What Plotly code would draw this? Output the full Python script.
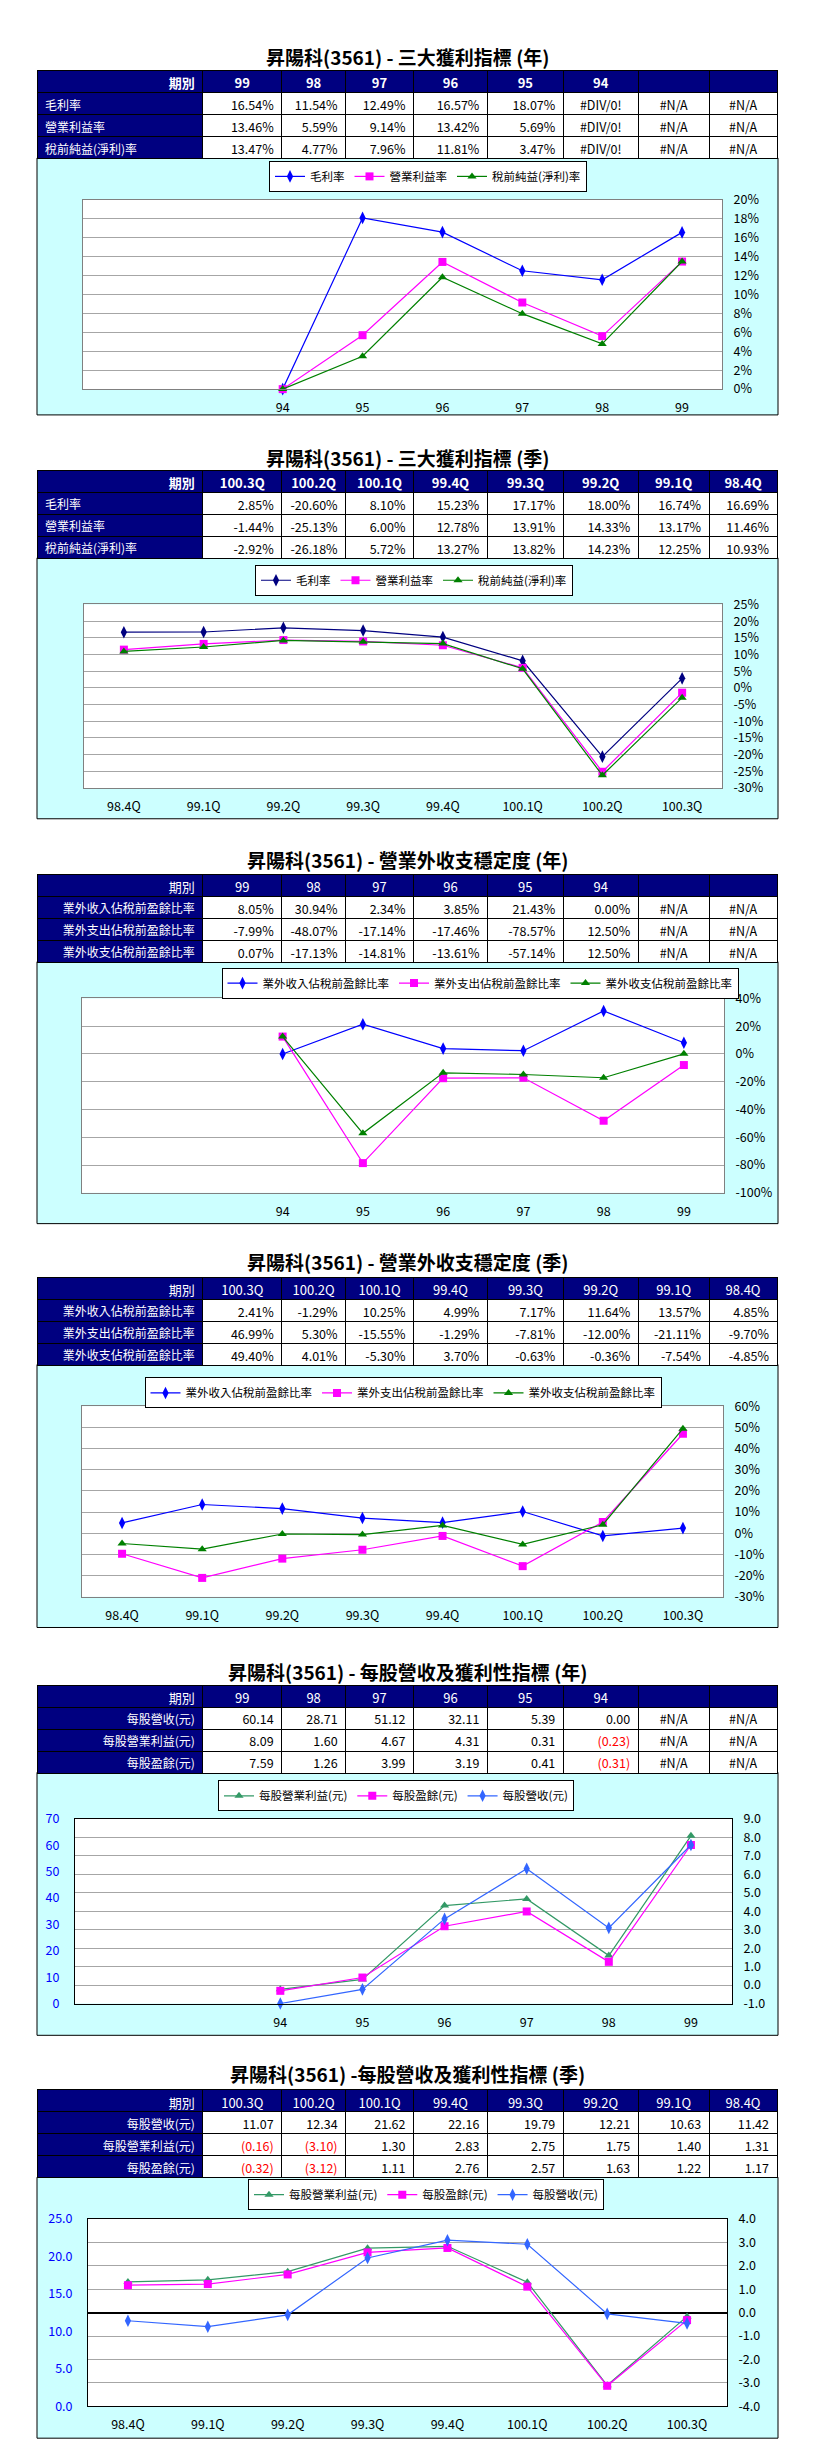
import plotly.graph_objects as go

W, H = 826, 2461
FONT = 'Noto Sans CJK TC, Liberation Sans, sans-serif'
NAVY = '#000080'
GRID = '#A6A6A6'
TICK = 12.5

# ---------------- data ----------------
years = ['99', '98', '97', '96', '95', '94']
quarters = ['100.3Q', '100.2Q', '100.1Q', '99.4Q', '99.3Q', '99.2Q', '99.1Q', '98.4Q']

# 1. 三大獲利指標 (年)  (None = #DIV/0!, plotted as 0 by the spreadsheet)
p1_labels = ['毛利率', '營業利益率', '稅前純益(淨利)率']
p1_gross = [16.54, 11.54, 12.49, 16.57, 18.07, None]
p1_oper = [13.46, 5.59, 9.14, 13.42, 5.69, None]
p1_pretax = [13.47, 4.77, 7.96, 11.81, 3.47, None]

# 2. 三大獲利指標 (季)
p2_gross = [2.85, -20.60, 8.10, 15.23, 17.17, 18.00, 16.74, 16.69]
p2_oper = [-1.44, -25.13, 6.00, 12.78, 13.91, 14.33, 13.17, 11.46]
p2_pretax = [-2.92, -26.18, 5.72, 13.27, 13.82, 14.23, 12.25, 10.93]

# 3. 營業外收支穩定度 (年)
p3_labels = ['業外收入佔稅前盈餘比率', '業外支出佔稅前盈餘比率', '業外收支佔稅前盈餘比率']
p3_in = [8.05, 30.94, 2.34, 3.85, 21.43, 0.00]
p3_out = [-7.99, -48.07, -17.14, -17.46, -78.57, 12.50]
p3_net = [0.07, -17.13, -14.81, -13.61, -57.14, 12.50]

# 4. 營業外收支穩定度 (季)
p4_in = [2.41, -1.29, 10.25, 4.99, 7.17, 11.64, 13.57, 4.85]
p4_out = [46.99, 5.30, -15.55, -1.29, -7.81, -12.00, -21.11, -9.70]
p4_net = [49.40, 4.01, -5.30, 3.70, -0.63, -0.36, -7.54, -4.85]

# 5. 每股營收及獲利性指標 (年)
p5_labels = ['每股營收(元)', '每股營業利益(元)', '每股盈餘(元)']
p5_rev = [60.14, 28.71, 51.12, 32.11, 5.39, 0.00]
p5_op = [8.09, 1.60, 4.67, 4.31, 0.31, -0.23]
p5_eps = [7.59, 1.26, 3.99, 3.19, 0.41, -0.31]

# 6. 每股營收及獲利性指標 (季)
p6_rev = [11.07, 12.34, 21.62, 22.16, 19.79, 12.21, 10.63, 11.42]
p6_op = [-0.16, -3.10, 1.30, 2.83, 2.75, 1.75, 1.40, 1.31]
p6_eps = [-0.32, -3.12, 1.11, 2.76, 2.57, 1.63, 1.22, 1.17]

# axis tick values
p1_yticks = list(range(0, 21, 2))
p2_yticks = list(range(-30, 26, 5))
p3_yticks = list(range(-100, 41, 20))
p4_yticks = list(range(-30, 61, 10))
p5_lticks = list(range(0, 71, 10))
p5_rticks = list(range(-1, 10, 1))
p6_lticks = list(range(0, 26, 5))
p6_rticks = list(range(-4, 5, 1))

titles = [
    '昇陽科(3561) - 三大獲利指標 (年)',
    '昇陽科(3561) - 三大獲利指標 (季)',
    '昇陽科(3561) - 營業外收支穩定度 (年)',
    '昇陽科(3561) - 營業外收支穩定度 (季)',
    '昇陽科(3561) - 每股營收及獲利性指標 (年)',
    '昇陽科(3561) -每股營收及獲利性指標 (季)',
]

# ---------------- layout helpers ----------------
PX0, PX1 = 29, 770
COLW = [166, 79, 64, 68, 74, 76, 75, 71, 68]


def fx(p):
    return p / W


def fy(p):
    return 1 - p / H


def pct(v):
    return '#DIV/0!' if v is None else f'{v:.2f}%'


def money(v):
    return f'({abs(v):.2f})' if v < 0 else f'{v:.2f}'


fig = go.Figure()
shapes = []
annotations = []
layout = {}


def add_table(top, periods, labels, series, fmt, bold, label_align, red_neg=False):
    n = len(periods)
    header = ['期別'] + list(periods) + [''] * (8 - n)
    cols = [labels]
    aligns = [label_align]
    colors = [['white'] * len(labels)]
    for j in range(8):
        col, co = [], []
        for s in series:
            if j < n:
                t = fmt(s[j])
                c = 'red' if (red_neg and s[j] is not None and s[j] < 0) else 'black'
            else:
                t, c = '#N/A', 'black'
            col.append(t)
            co.append(c)
        cols.append(col)
        aligns.append('center' if col[0].startswith('#') else 'right')
        colors.append(co)
    fig.add_trace(go.Table(
        domain=dict(x=[fx(PX0), fx(PX1)], y=[fy(top + 96), fy(top)]),
        columnwidth=COLW,
        header=dict(values=header, fill_color=NAVY, line=dict(color='black', width=1),
                    font=dict(family=FONT, size=13, color='white',
                              weight='bold' if bold else 'normal'),
                    align=['right'] + ['center'] * 8, height=22),
        cells=dict(values=cols, fill_color=[NAVY] + ['white'] * 8,
                   line=dict(color='black', width=1),
                   font=dict(family=FONT, size=[12] + [12.5] * 8, color=colors),
                   align=aligns, height=22),
    ))


def add_panel(i, title_y, table_top, panel_bottom, box, leg_cx, leg_top):
    x0, y0, x1, y1 = box
    xr = 'x' if i == 1 else f'x{i}'
    yr = 'y' if i == 1 else f'y{i}'
    annotations.append(dict(text=f'<b>{titles[i - 1]}</b>', x=fx((PX0 + PX1) / 2), y=fy(title_y),
                            xref='paper', yref='paper', xanchor='center', yanchor='middle',
                            showarrow=False, font=dict(family=FONT, size=19, color='black')))
    shapes.append(dict(type='rect', xref='paper', yref='paper', x0=fx(PX0), x1=fx(PX1),
                       y0=fy(panel_bottom), y1=fy(table_top + 88), fillcolor='#CCFFFF',
                       line=dict(color='black', width=1), layer='below'))
    shapes.append(dict(type='rect', xref=f'{xr} domain', yref=f'{yr} domain', x0=0, x1=1, y0=0, y1=1,
                       fillcolor='white', line=dict(width=0), layer='below'))
    lg = 'legend' if i == 1 else f'legend{i}'
    layout[lg] = dict(x=fx(leg_cx), xanchor='center', y=fy(leg_top - 2), yanchor='top',
                      orientation='h', bgcolor='white', bordercolor='black', borderwidth=1,
                      font=dict(family=FONT, size=11.5, color='black'), tracegroupgap=0)
    return xr, yr, lg, (fx(x0), fx(x1)), (fy(y1), fy(y0))


def xaxis_def(dom, yr, cats, rng, frame):
    return dict(domain=list(dom), anchor=yr, type='category', categoryorder='array',
                categoryarray=cats, range=rng, showgrid=False, showline=True, mirror=True,
                linecolor=frame, linewidth=1, ticks='outside', ticklen=7,
                tickcolor='rgba(0,0,0,0)', tickfont=dict(family=FONT, size=TICK, color='black'),
                zeroline=False, fixedrange=True)


def yaxis_def(dom, xr, ticks, suffix, fmt, frame, zeroline=False):
    return dict(domain=list(dom), anchor=xr, side='right', range=[ticks[0], ticks[-1]],
                tickvals=ticks, ticktext=[(fmt(v) + suffix) for v in ticks],
                showgrid=True, gridcolor=GRID, gridwidth=1, showline=True, mirror=True,
                linecolor=frame, linewidth=1, ticks='outside', ticklen=8,
                tickcolor='rgba(0,0,0,0)', tickfont=dict(family=FONT, size=TICK, color='black'),
                zeroline=zeroline, zerolinecolor='black', zerolinewidth=1.5, fixedrange=True)


def line_trace(x, y, name, color, symbol, size, xr, yr, lg, width=1.2):
    return go.Scatter(x=x, y=y, name=name, mode='lines+markers', xaxis=xr, yaxis=yr, legend=lg,
                      line=dict(color=color, width=width),
                      marker=dict(symbol=symbol, size=size, color=color, line=dict(width=0)),
                      cliponaxis=False, hoverinfo='skip')


ychron = years[::-1]
qchron = quarters[::-1]


def chron(s):
    return [0 if v is None else v for v in s[::-1]]


# ---------- panel 1 ----------
add_table(52, years, p1_labels, [p1_gross, p1_oper, p1_pretax], pct, True, 'left')
xr, yr, lg, xd, yd = add_panel(1, 38, 52, 399, (75, 182, 714, 373), 420, 145)
layout['xaxis'] = xaxis_def(xd, yr, ychron, [-2.5, 5.5], '#808080')
layout['yaxis'] = yaxis_def(yd, xr, p1_yticks, '%', lambda v: f'{v}', '#808080')
fig.add_trace(line_trace(ychron, chron(p1_gross), '毛利率', '#0000FF', 'diamond-tall', 9, xr, yr, lg))
fig.add_trace(line_trace(ychron, chron(p1_oper), '營業利益率', '#FF00FF', 'square', 8, xr, yr, lg))
fig.add_trace(line_trace(ychron, chron(p1_pretax), '稅前純益(淨利)率', '#008000', 'triangle-up', 8, xr, yr, lg))

# ---------- panel 2 ----------
add_table(455, quarters, p1_labels, [p2_gross, p2_oper, p2_pretax], pct, True, 'left')
xr, yr, lg, xd, yd = add_panel(2, 442, 455, 806, (76, 590, 714, 775), 406, 552)
layout['xaxis2'] = xaxis_def(xd, yr, qchron, [-0.5, 7.5], '#808080')
layout['yaxis2'] = yaxis_def(yd, xr, p2_yticks, '%', lambda v: f'{v}', '#808080')
fig.add_trace(line_trace(qchron, chron(p2_gross), '毛利率', '#000080', 'diamond-tall', 9, xr, yr, lg))
fig.add_trace(line_trace(qchron, chron(p2_oper), '營業利益率', '#FF00FF', 'square', 8, xr, yr, lg))
fig.add_trace(line_trace(qchron, chron(p2_pretax), '稅前純益(淨利)率', '#008000', 'triangle-up', 8, xr, yr, lg))

# ---------- panel 3 ----------
add_table(862, years, p3_labels, [p3_in, p3_out, p3_net], pct, False, 'right')
xr, yr, lg, xd, yd = add_panel(3, 847, 862, 1214, (74, 987, 716, 1183), 472, 958)
layout['xaxis3'] = xaxis_def(xd, yr, ychron, [-2.5, 5.5], '#808080')
layout['yaxis3'] = yaxis_def(yd, xr, p3_yticks, '%', lambda v: f'{v}', '#808080')
fig.add_trace(line_trace(ychron, chron(p3_in), p3_labels[0], '#0000FF', 'diamond-tall', 9, xr, yr, lg))
fig.add_trace(line_trace(ychron, chron(p3_out), p3_labels[1], '#FF00FF', 'square', 8, xr, yr, lg))
fig.add_trace(line_trace(ychron, chron(p3_net), p3_labels[2], '#008000', 'triangle-up', 8, xr, yr, lg))

# ---------- panel 4 ----------
add_table(1268, quarters, p3_labels, [p4_in, p4_out, p4_net], pct, False, 'right')
xr, yr, lg, xd, yd = add_panel(4, 1252, 1268, 1621, (74, 1398, 715, 1590), 395, 1371)
layout['xaxis4'] = xaxis_def(xd, yr, qchron, [-0.5, 7.5], '#808080')
layout['yaxis4'] = yaxis_def(yd, xr, p4_yticks, '%', lambda v: f'{v}', '#808080')
fig.add_trace(line_trace(qchron, chron(p4_in), p3_labels[0], '#0000FF', 'diamond-tall', 9, xr, yr, lg))
fig.add_trace(line_trace(qchron, chron(p4_out), p3_labels[1], '#FF00FF', 'square', 8, xr, yr, lg))
fig.add_trace(line_trace(qchron, chron(p4_net), p3_labels[2], '#008000', 'triangle-up', 8, xr, yr, lg))

# ---------- panel 5 ----------
add_table(1679, years, p5_labels, [p5_rev, p5_op, p5_eps], money, False, 'right', red_neg=True)
xr, yr, lg, xd, yd = add_panel(5, 1665, 1679, 2032, (67, 1814, 724, 2000), 388, 1777)
layout['xaxis5'] = xaxis_def(xd, yr, ychron, [-2.5, 5.5], 'black')
layout['yaxis5'] = yaxis_def(yd, xr, p5_rticks, '', lambda v: f'{v:.1f}', 'black')
layout['yaxis7'] = dict(overlaying=yr, anchor=xr, side='left', range=[p5_lticks[0], p5_lticks[-1]],
                        tickvals=p5_lticks, ticktext=[f'{v}' for v in p5_lticks], showgrid=False,
                        showline=False, zeroline=False, ticks='outside', ticklen=12,
                        tickcolor='rgba(0,0,0,0)', tickfont=dict(family=FONT, size=TICK, color='#0000FF'),
                        fixedrange=True)
fig.add_trace(line_trace(ychron, chron(p5_op), '每股營業利益(元)', '#339966', 'triangle-up', 8, xr, yr, lg))
fig.add_trace(line_trace(ychron, chron(p5_eps), '每股盈餘(元)', '#FF00FF', 'square', 8, xr, yr, lg))
fig.add_trace(line_trace(ychron, chron(p5_rev), '每股營收(元)', '#3366FF', 'diamond-tall', 9, xr, 'y7', lg))

# ---------- panel 6 ----------
add_table(2087, quarters, p5_labels, [p6_rev, p6_op, p6_eps], money, False, 'right', red_neg=True)
xr, yr, lg, xd, yd = add_panel(6, 2070, 2087, 2438, (80, 2217, 719, 2406), 418, 2179)
layout['xaxis6'] = xaxis_def(xd, yr, qchron, [-0.5, 7.5], 'black')
layout['yaxis6'] = yaxis_def(yd, xr, p6_rticks, '', lambda v: f'{v:.1f}', 'black', zeroline=True)
layout['yaxis8'] = dict(overlaying=yr, anchor=xr, side='left', range=[p6_lticks[0], p6_lticks[-1]],
                        tickvals=p6_lticks, ticktext=[f'{v:.1f}' for v in p6_lticks], showgrid=False,
                        showline=False, zeroline=False, ticks='outside', ticklen=12,
                        tickcolor='rgba(0,0,0,0)', tickfont=dict(family=FONT, size=TICK, color='#0000FF'),
                        fixedrange=True)
fig.add_trace(line_trace(qchron, chron(p6_op), '每股營業利益(元)', '#339966', 'triangle-up', 8, xr, yr, lg))
fig.add_trace(line_trace(qchron, chron(p6_eps), '每股盈餘(元)', '#FF00FF', 'square', 8, xr, yr, lg))
fig.add_trace(line_trace(qchron, chron(p6_rev), '每股營收(元)', '#3366FF', 'diamond-tall', 9, xr, 'y8', lg))

fig.update_layout(width=W, height=H, autosize=False, margin=dict(l=0, r=0, t=0, b=0, pad=0),
                  paper_bgcolor='white', plot_bgcolor='white', font=dict(family=FONT, size=12),
                  shapes=shapes, annotations=annotations, showlegend=True, **layout)

fig.write_html('out.html', config={'displayModeBar': False})
